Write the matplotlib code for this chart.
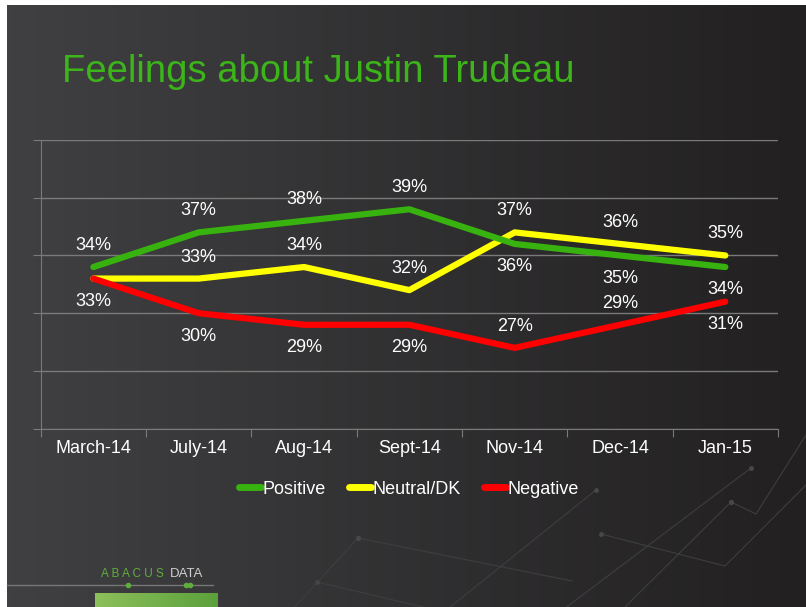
import matplotlib
matplotlib.use('Agg')
import matplotlib.pyplot as plt
import numpy as np
from matplotlib.lines import Line2D

months = ['March-14', 'July-14', 'Aug-14', 'Sept-14', 'Nov-14', 'Dec-14', 'Jan-15']
positive = [34, 37, 38, 39, 36, 35, 34]
neutral = [33, 33, 34, 32, 37, 36, 35]
negative = [33, 30, 29, 29, 27, 29, 31]
# label above (+1), below (-1) or hidden (0)
pos_side = [1, 1, 1, 1, -1, -1, -1]
neu_side = [0, 1, 1, 1, 1, 1, 1]
neg_side = [-1, -1, -1, -1, 1, 1, -1]

W, H = 806, 607
fig = plt.figure(figsize=(W / 100, H / 100), dpi=100)
fig.patch.set_facecolor('white')
font = ['Liberation Sans', 'DejaVu Sans']

# background gradient
bg = fig.add_axes([7 / W, 0, 1 - 7 / W, 1 - 5 / H])
grad = np.linspace(0, 1, 256).reshape(1, -1)
c0 = np.array([0x40, 0x40, 0x42]) / 255
c1 = np.array([0x22, 0x20, 0x21]) / 255
img = c0[None, None, :] * (1 - grad[..., None]) + c1[None, None, :] * grad[..., None]
bg.imshow(img, aspect='auto', extent=[0, 1, 0, 1])
bg.set_xlim(0, 1)
bg.set_ylim(0, 1)
bg.axis('off')

# faint decoration lines (pixel coords)
deco = [[(358, 533), (572, 576)], [(317, 577), (444, 607)], [(601, 529), (725, 561), (806, 480)],
        [(596, 485), (444, 607)], [(731, 497), (756, 509), (806, 430)], [(751, 463), (560, 607)],
        [(731, 497), (620, 607)], [(358, 533), (290, 607)]]
for seg in deco:
    xs = [(p[0] - 7) / (W - 7) for p in seg]
    ys = [1 - p[1] / (H - 5) for p in seg]
    bg.plot(xs, ys, color='#3e3e40', lw=0.8, zorder=1)
    bg.plot(xs[:1], ys[:1], 'o', color='#484849', ms=2.5, zorder=1)

# title
fig.text(62 / W, 1 - 72 / H, 'Feelings about Justin Trudeau', color='#3cb41a',
         fontsize=27.5, family=font, va='center', ha='left')

ax = fig.add_axes([40.7 / W, 1 - 428.7 / H, (778 - 40.7) / W, (428.7 - 140) / H])
ax.patch.set_alpha(0)
x = np.arange(len(months))
ax.set_xlim(-0.5, len(months) - 0.5)
ax.set_ylim(20, 45)
ax.set_yticks([20, 25, 30, 35, 40, 45])
ax.set_yticklabels([])
ax.grid(axis='y', color='#7a7a7a', lw=1)
ax.set_axisbelow(True)
ax.set_xticks(np.arange(len(months) + 1) - 0.5)
ax.set_xticklabels([])
ax.set_xticks(x, minor=True)
ax.set_xticklabels(months, minor=True)
ax.tick_params(axis='x', which='minor', length=0, colors='white', labelsize=13, pad=8)
ax.tick_params(axis='x', which='major', length=6, color='#7a7a7a')
ax.tick_params(axis='y', length=6, color='#7a7a7a')
for t in ax.get_xticklabels(minor=True):
    t.set_family(font)
for s in ['top', 'right']:
    ax.spines[s].set_visible(False)
for s in ['left', 'bottom']:
    ax.spines[s].set_color('#7a7a7a')

series = [(neutral, '#ffff00', 'Neutral/DK', neu_side),
          (positive, '#37b20f', 'Positive', pos_side),
          (negative, '#ff0000', 'Negative', neg_side)]
for vals, col, name, side in series:
    ax.plot(x, vals, color=col, lw=4.5, solid_capstyle='round', solid_joinstyle='round', zorder=3)
    for xi, v, sd in zip(x, vals, side):
        if sd == 0:
            continue
        off = 15.5 if sd > 0 else -16.5
        ax.annotate('%d%%' % v, (xi, v), xytext=(0, off), textcoords='offset points',
                    ha='center', va='center', color='white', fontsize=13, family=font, zorder=4)

handles = [Line2D([], [], color='#37b20f', lw=5, solid_capstyle='round'),
           Line2D([], [], color='#ffff00', lw=5, solid_capstyle='round'),
           Line2D([], [], color='#ff0000', lw=5, solid_capstyle='round')]
leg = fig.legend(handles, ['Positive', 'Neutral/DK', 'Negative'], loc='center',
                 bbox_to_anchor=(409 / W, 1 - 489 / H), ncol=3, frameon=False,
                 handlelength=1.2, handletextpad=0.1, columnspacing=1.3,
                 prop={'family': font, 'size': 13})
for t in leg.get_texts():
    t.set_color('white')

# logo
fig.text(164 / W, 1 - 574 / H, 'A B A C U S', color='#5fae3c', fontsize=8.5, family=font,
         va='center', ha='right')
fig.text(170 / W, 1 - 574 / H, 'DATA', color='#cfcfcf', fontsize=9.5, family=font,
         va='center', ha='left')
fig.add_artist(Line2D([7 / W, 213 / W], [1 - 585 / H, 1 - 585 / H], color='#777777', lw=1))
for px in [128, 186, 190]:
    fig.add_artist(Line2D([px / W], [1 - 585 / H], marker='o', ms=3, color='#5fae3c'))
lg = fig.add_axes([95 / W, 0, 123 / W, 14 / H])
g2 = np.linspace(0, 1, 64).reshape(1, -1)
a = np.array([0x8c, 0xc0, 0x5a]) / 255
b = np.array([0x5c, 0xa0, 0x3c]) / 255
lg.imshow(a[None, None, :] * (1 - g2[..., None]) + b[None, None, :] * g2[..., None], aspect='auto')
lg.axis('off')

fig.savefig('out.png', dpi=100, facecolor=fig.get_facecolor())
